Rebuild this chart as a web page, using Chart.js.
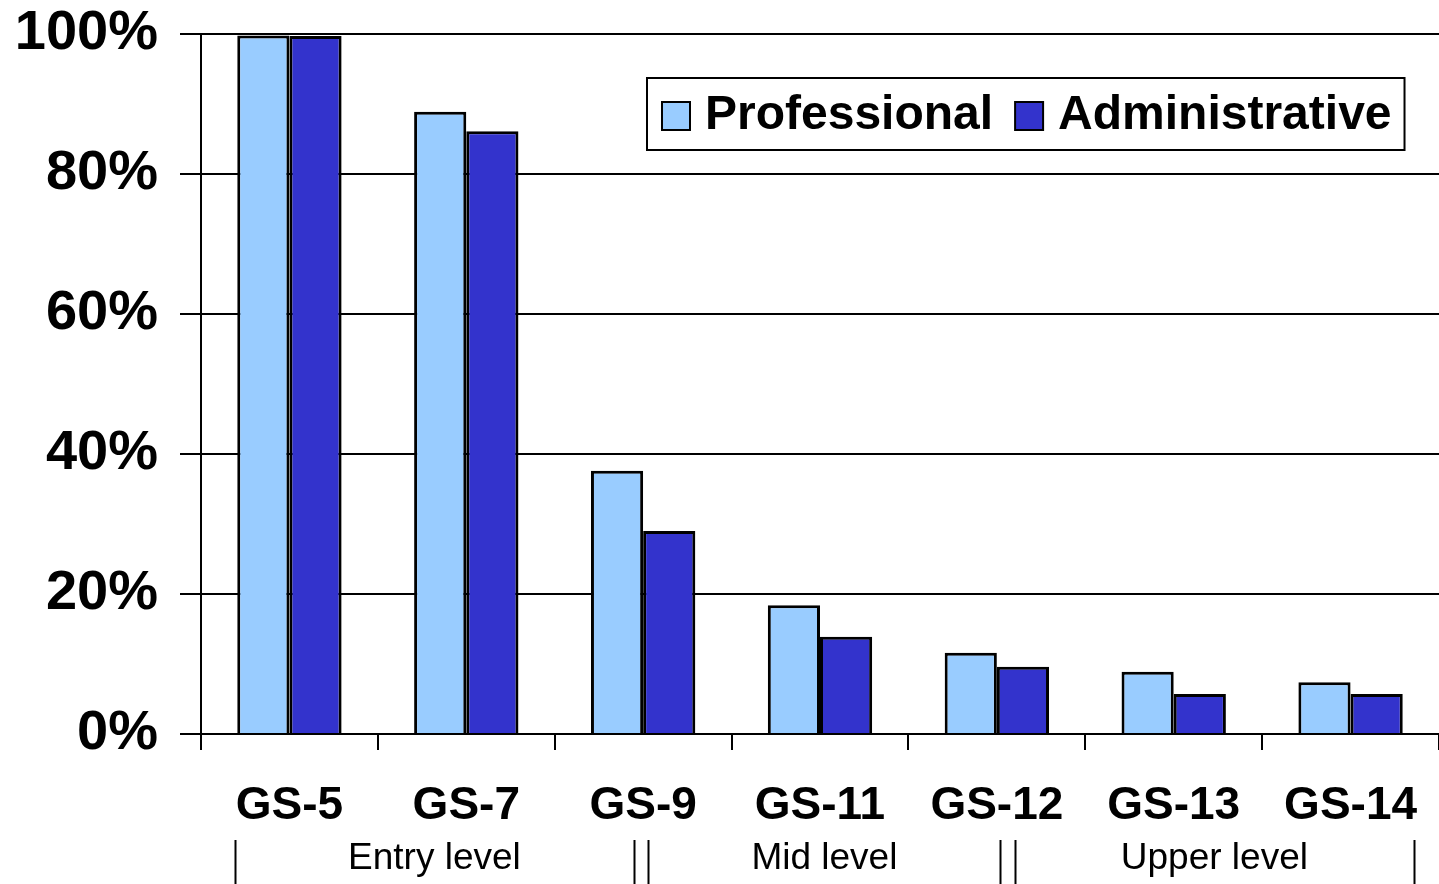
<!DOCTYPE html>
<html>
<head>
<meta charset="utf-8">
<script src="https://cdn.jsdelivr.net/npm/chart.js@4"></script>
<style>
  html, body { margin: 0; padding: 0; background: #fff; }
  #wrap { width: 1439px; height: 884px; }
</style>
</head>
<body>
<div id="wrap"><canvas id="myChart"></canvas></div>
<script>
// data
const grades = ['GS-5', 'GS-7', 'GS-9', 'GS-11', 'GS-12', 'GS-13', 'GS-14'];
const professional = [99.8, 88.9, 37.6, 18.4, 11.6, 8.9, 7.4];
const administrative = [99.7, 86.1, 29.0, 13.9, 9.6, 5.7, 5.7];
const yTicks = [0, 20, 40, 60, 80, 100];
const groupNames = ['Entry level', 'Mid level', 'Upper level'];

const lightBlue = '#99CCFF';
const darkBlue = '#3333CC';

// legend box + group labels under the axis
const extras = {
  id: 'extras',
  afterDraw(chart) {
    const ctx = chart.ctx;
    const x = chart.scales.x;
    ctx.save();

    // legend
    ctx.font = 'bold 48px "Liberation Sans", Arial, sans-serif';
    ctx.textBaseline = 'middle';
    const items = chart.data.datasets;
    const left = 647, top = 78, h = 72, sw = 28;
    let cx = left + 15;
    const pos = [];
    items.forEach((ds) => {
      pos.push(cx);
      cx += sw + 15 + ctx.measureText(ds.label).width + 22;
    });
    const right = cx - 22 + 13;
    ctx.lineWidth = 2;
    ctx.strokeStyle = '#000';
    ctx.fillStyle = '#fff';
    ctx.fillRect(left, top, right - left, h);
    ctx.strokeRect(left, top, right - left, h);
    items.forEach((ds, i) => {
      const px = pos[i];
      ctx.fillStyle = ds.backgroundColor;
      ctx.fillRect(px, top + h / 2 - sw / 2 + 2, sw, sw);
      ctx.strokeRect(px, top + h / 2 - sw / 2 + 2, sw, sw);
      ctx.fillStyle = '#000';
      ctx.textAlign = 'left';
      ctx.fillText(ds.label, px + sw + 15, top + h / 2 + 2);
    });

    // group separators and labels
    const seps = [-0.31, 1.95, 2.03, 4.02, 4.10, 6.36];
    ctx.lineWidth = 2;
    seps.forEach((v) => {
      const px = Math.round(x.getPixelForValue(v)) + 0.5;
      ctx.beginPath();
      ctx.moveTo(px, 840);
      ctx.lineTo(px, 884);
      ctx.stroke();
    });
    ctx.font = '37px "Liberation Sans", Arial, sans-serif';
    ctx.textAlign = 'center';
    ctx.fillStyle = '#000';
    groupNames.forEach((name, i) => {
      const a = x.getPixelForValue(seps[i * 2]);
      const b = x.getPixelForValue(seps[i * 2 + 1]);
      ctx.fillText(name, (a + b) / 2, 859);
    });
    ctx.restore();
  }
};

new Chart(document.getElementById('myChart'), {
  type: 'bar',
  data: {
    labels: grades,
    datasets: [{
      label: 'Professional',
      data: professional,
      backgroundColor: lightBlue,
      borderColor: '#000',
      borderWidth: 3,
      borderSkipped: 'bottom'
    }, {
      label: 'Administrative',
      data: administrative,
      backgroundColor: darkBlue,
      borderColor: '#000',
      borderWidth: 3,
      borderSkipped: 'bottom'
    }]
  },
  options: {
    responsive: true,
    maintainAspectRatio: false,
    animation: false,
    devicePixelRatio: 1,
    categoryPercentage: 0.59,
    barPercentage: 1.0,
    layout: { padding: { top: 34, right: 0, left: 0, bottom: 0 } },
    plugins: {
      legend: { display: false },
      tooltip: { enabled: false }
    },
    scales: {
      x: {
        grid: { drawOnChartArea: false, drawTicks: true, tickLength: 16, color: '#000', lineWidth: 2 },
        border: { color: '#000', width: 2 },
        ticks: {
          color: '#000',
          padding: 29,
          font: { family: '"Liberation Sans", Arial, sans-serif', size: 46, weight: 'bold' }
        },
        afterFit(scale) {
          scale.height = 150;
          scale.paddingLeft = 0;
          scale.paddingRight = 0;
        }
      },
      y: {
        min: 0,
        max: 100,
        afterBuildTicks(scale) { scale.ticks = yTicks.map(v => ({ value: v })); },
        grid: { color: '#000', lineWidth: 2, tickLength: 21 },
        border: { color: '#000', width: 2 },
        ticks: {
          color: '#000',
          padding: 22,
          font: { family: '"Liberation Sans", Arial, sans-serif', size: 56, weight: 'bold' },
          callback: (v) => v + '%'
        },
        afterFit(scale) {
          scale.width = 201;
          scale.paddingTop = 0;
          scale.paddingBottom = 0;
        }
      }
    }
  },
  plugins: [extras]
});
</script>
</body>
</html>
